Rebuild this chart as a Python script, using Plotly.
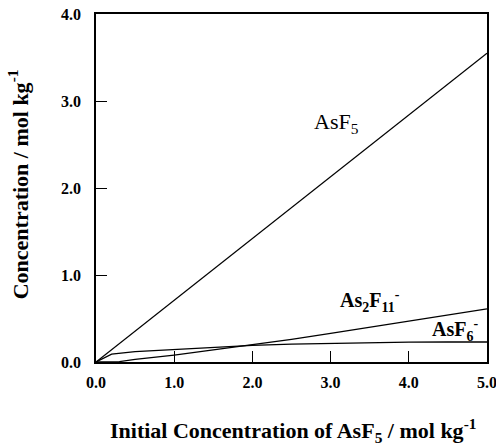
import plotly.graph_objects as go

# Data
x_asf5 = [0, 1, 2, 3, 4, 5]
y_asf5 = [0, 0.71, 1.42, 2.13, 2.84, 3.55]

x_as2f11 = [0, 0.3, 0.5, 1.0, 1.5, 2.0, 2.5, 3.0, 3.5, 4.0, 4.5, 5.0]
y_as2f11 = [0, 0.005, 0.03, 0.08, 0.14, 0.20, 0.26, 0.33, 0.40, 0.47, 0.54, 0.61]

x_asf6 = [0, 0.2, 0.5, 1.0, 1.5, 2.0, 2.5, 3.0, 3.5, 4.0, 4.5, 5.0]
y_asf6 = [0, 0.09, 0.12, 0.145, 0.17, 0.19, 0.205, 0.215, 0.225, 0.228, 0.23, 0.23]

tick_vals = [0, 1, 2, 3, 4, 5]
tick_text = ["0.0", "1.0", "2.0", "3.0", "4.0", "5.0"]
ytick_vals = [0, 1, 2, 3, 4]
ytick_text = ["0.0", "1.0", "2.0", "3.0", "4.0"]

FONT = "Liberation Serif, Times New Roman, serif"
line = dict(color="black", width=1.3)

fig = go.Figure()
for xs, ys, name in [(x_asf5, y_asf5, "AsF5"), (x_as2f11, y_as2f11, "As2F11-"), (x_asf6, y_asf6, "AsF6-")]:
    fig.add_trace(go.Scatter(x=xs, y=ys, mode="lines", line=line, name=name, showlegend=False,
                             hoverinfo="skip"))

fig.add_annotation(x=3.08, y=2.75, text="AsF<sub>5</sub>", showarrow=False,
                   font=dict(family=FONT, size=22, color="black"))
fig.add_annotation(x=3.50, y=0.70, text="<b>As<sub>2</sub>F<sub>11</sub><sup>-</sup></b>", showarrow=False,
                   font=dict(family=FONT, size=20, color="black"))
fig.add_annotation(x=4.59, y=0.37, text="<b>AsF<sub>6</sub><sup>-</sup></b>", showarrow=False,
                   font=dict(family=FONT, size=20, color="black"))

# axis titles as paper annotations for exact placement
fig.add_annotation(xref="paper", yref="paper", x=0.505, y=-0.197, xanchor="center", yanchor="middle",
                   text="<b>Initial Concentration of AsF<sub>5</sub> / mol kg<sup>-1</sup></b>",
                   showarrow=False, font=dict(family=FONT, size=22, color="black"))
fig.add_annotation(xref="paper", yref="paper", x=-0.2, y=0.51, xanchor="center", yanchor="middle",
                   text="<b>Concentration / mol kg<sup>-1</sup></b>", textangle=-90,
                   showarrow=False, font=dict(family=FONT, size=22, color="black"))

axis_common = dict(showline=True, linecolor="black", linewidth=1.5, mirror=True,
                   ticks="inside", ticklen=11, tickwidth=1, tickcolor="black",
                   showgrid=False, zeroline=False, automargin=False,
                   ticklabeloverflow="allow",
                   tickfont=dict(family=FONT, size=16, color="black"))

fig.update_xaxes(range=[0, 5], tickvals=tick_vals, ticktext=["<b>%s</b>" % t for t in tick_text],
                 ticklabelstandoff=5, **axis_common)
fig.update_yaxes(range=[0, 4], tickvals=ytick_vals, ticktext=["<b>%s</b>" % t for t in ytick_text],
                 ticklabelstandoff=10, **axis_common)

fig.update_layout(width=496, height=447, margin=dict(l=96, r=9, t=14, b=85),
                  plot_bgcolor="white", paper_bgcolor="white")

fig.write_html("out.html", config={"displayModeBar": False},
               post_script="document.body.style.margin='0';document.body.style.overflow='hidden';")
